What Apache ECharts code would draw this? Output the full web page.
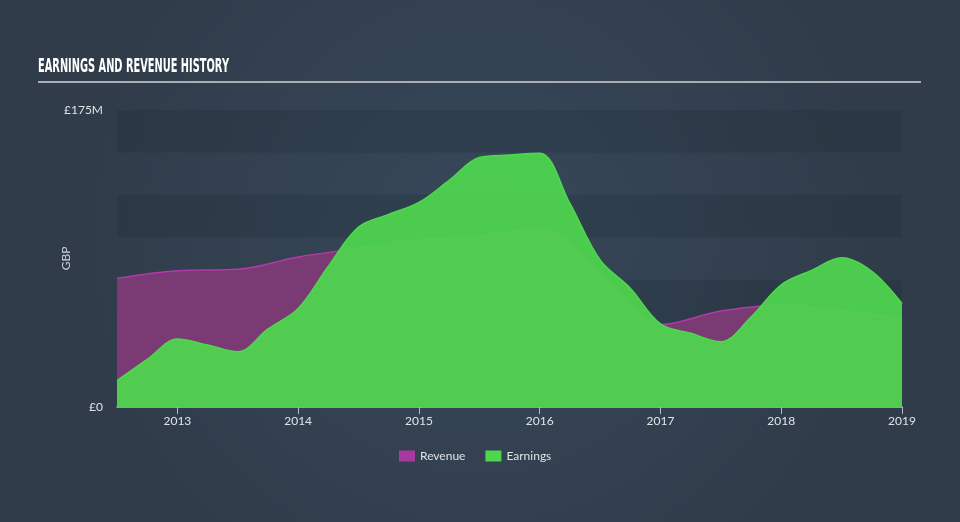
<!DOCTYPE html>
<html>
<head>
<meta charset="utf-8">
<script src="https://cdn.jsdelivr.net/npm/echarts@6/dist/echarts.min.js"></script>
<style>
html,body{margin:0;padding:0;width:960px;height:522px;overflow:hidden;background:#323f4e;}
#chart{width:960px;height:522px;}
</style>
</head>
<body>
<div id="chart"></div>
<script>
// Values in GBP millions
var revenueDates  = [2012.5, 2013.0, 2013.5, 2014.0, 2014.5, 2015.0, 2015.5, 2016.0, 2016.5, 2017.0, 2017.5, 2018.0, 2018.5, 2019.0];
var revenueValues = [75.8, 80.3, 81.1, 88.4, 93.5, 98.0, 100.5, 105.0, 78.8, 48.5, 56.5, 60.0, 56.5, 52.3];

var earningsDates  = [2012.5, 2012.75, 2013.0, 2013.25, 2013.5, 2013.75, 2014.0, 2014.25, 2014.5, 2014.75, 2015.0, 2015.25, 2015.5, 2015.75, 2016.0, 2016.25, 2016.5, 2016.75, 2017.0, 2017.25, 2017.5, 2017.75, 2018.0, 2018.25, 2018.5, 2018.75, 2019.0];
var earningsValues = [15.5, 28.0, 40.0, 36.5, 32.5, 46.0, 58.0, 83.0, 106.0, 113.5, 120.5, 133.5, 147.0, 148.5, 149.5, 120.0, 86.6, 70.0, 49.0, 43.4, 38.5, 53.0, 72.0, 80.5, 88.0, 80.0, 61.0];

var yearTicks = [2013, 2014, 2015, 2016, 2017, 2018, 2019];
var yLabelValues = [0, 175];
var yLabelTexts = ['£0', '£175M'];
var titleText = 'EARNINGS AND REVENUE HISTORY';

function pairs(xs, ys){ return xs.map(function(x,i){ return [x, ys[i]]; }); }

var titleFont = 'bold 19px "DejaVu Sans", sans-serif';
var ctx = document.createElement('canvas').getContext('2d');
ctx.font = titleFont;
var titleScale = 191 / ctx.measureText(titleText).width;

var chart = echarts.init(document.getElementById('chart'), null, {renderer:'canvas'});
var font = 'Lato, "Open Sans", sans-serif';
chart.setOption({
  animation: false,
  backgroundColor: {
    type: 'radial', x: 0.5, y: 0.45, r: 0.75,
    colorStops: [{offset: 0, color: '#37485a'}, {offset: 1, color: '#303c4a'}]
  },
  graphic: [
    {type:'text', x: 38, y: 67, scaleX: titleScale, scaleY: 1,
     style:{text: titleText, fill:'#ffffff', font: titleFont, textVerticalAlign:'middle'}},
    {type:'rect', shape:{x:38, y:81, width:883, height:2}, style:{fill:'#a9aeb5'}}
  ],
  legend: {
    left: 394, top: 445,
    itemWidth: 16, itemHeight: 11, itemGap: 20,
    icon: 'rect',
    textStyle: {color:'#dfe3e8', fontSize: 12, fontFamily: font},
    data: ['Revenue', 'Earnings']
  },
  grid: {left: 117, right: 58, top: 110, bottom: 115},
  xAxis: {
    type: 'value', min: 2012.5, max: 2019.0,
    axisLine: {show: true, lineStyle: {color: '#b4bcc8', width: 1.5}},
    axisTick: {show: true, length: 7, customValues: yearTicks, lineStyle:{color:'#b4bcc8'}},
    axisLabel: {customValues: yearTicks, color: '#dfe3e8', fontSize: 12, fontFamily: font, margin: 8,
      formatter: function(v){ return String(Math.round(v)); }},
    splitLine: {show: false}
  },
  yAxis: {
    type: 'value', min: 0, max: 175, interval: 25,
    name: 'GBP', nameLocation: 'middle', nameGap: 45, nameMoveOverlap: false,
    nameTextStyle: {color: '#cdd2d8', fontSize: 12, fontFamily: font},
    axisLine: {show: false}, axisTick: {show: false},
    axisLabel: {color: '#dfe3e8', fontSize: 12, fontFamily: font, margin: 14,
      formatter: function(v){ var i = yLabelValues.indexOf(v); return i >= 0 ? yLabelTexts[i] : ''; }},
    splitLine: {show: false},
    splitArea: {show: true, areaStyle: {color: ['rgba(20,30,40,0.16)', 'rgba(0,0,0,0)']}}
  },
  series: [
    {
      name: 'Revenue', type: 'line', data: pairs(revenueDates, revenueValues),
      smooth: 0.35, showSymbol: false, z: 2,
      itemStyle: {color: '#a8399e'},
      lineStyle: {color: '#b13aa6', width: 1.5},
      areaStyle: {color: '#7a3a74', opacity: 1}
    },
    {
      name: 'Earnings', type: 'line', data: pairs(earningsDates, earningsValues),
      smooth: 0.35, showSymbol: false, z: 3,
      itemStyle: {color: '#4fd64f'},
      lineStyle: {color: '#4cd94c', width: 1.5},
      areaStyle: {color: '#4fd64f', opacity: 0.93}
    }
  ]
});
</script>
</body>
</html>
